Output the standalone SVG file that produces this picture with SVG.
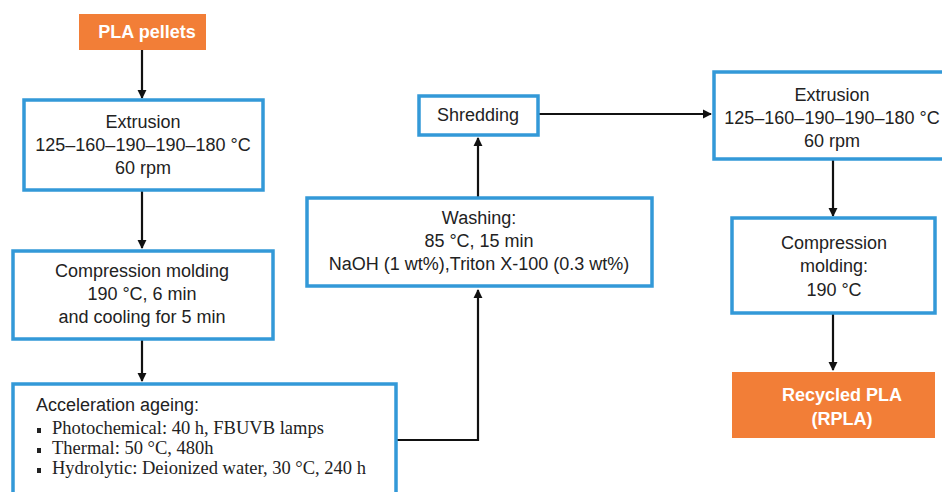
<svg xmlns="http://www.w3.org/2000/svg" width="942" height="492" viewBox="0 0 942 492">
<style>
.box{fill:#fff;stroke:#3399D8;stroke-width:3.5}
.org{fill:#F27E37}
.t{font-family:"Liberation Sans",Arial,sans-serif;font-size:18px;fill:#222;text-anchor:middle}
.tw{font-family:"Liberation Sans",Arial,sans-serif;font-size:18px;font-weight:bold;fill:#fff;text-anchor:middle}
.s{font-family:"Liberation Serif","Times New Roman",serif;font-size:18.5px;fill:#222}
.c{fill:none;stroke:#111;stroke-width:2.2}
</style>
<defs>
<marker id="ah" viewBox="0 0 10 10" refX="9" refY="5" markerWidth="4.2" markerHeight="4.2" orient="auto" markerUnits="strokeWidth">
<path d="M0,0 L10,5 L0,10 z" fill="#111"/>
</marker>
</defs>
<g id="connectors">
<path class="c" d="M142,50 V98" marker-end="url(#ah)"/>
<path class="c" d="M142,190 V248" marker-end="url(#ah)"/>
<path class="c" d="M142,339 V381" marker-end="url(#ah)"/>
<path class="c" d="M396,440 H478 V290" marker-end="url(#ah)"/>
<path class="c" d="M478,198 V138" marker-end="url(#ah)"/>
<path class="c" d="M538,114 H711" marker-end="url(#ah)"/>
<path class="c" d="M833,159 V216" marker-end="url(#ah)"/>
<path class="c" d="M833,313 V370" marker-end="url(#ah)"/>
</g>
<g id="pla-pellets">
<rect class="org" x="79" y="14" width="127" height="36"/>
<text class="tw" x="147" y="38">PLA pellets</text>
</g>
<g id="extrusion1">
<rect class="box" x="24" y="100" width="239" height="90"/>
<text class="t" x="143" y="128">Extrusion</text>
<text class="t" x="143" y="151">125–160–190–190–180 °C</text>
<text class="t" x="143" y="174">60 rpm</text>
</g>
<g id="compression1">
<rect class="box" x="13" y="251" width="260" height="88"/>
<text class="t" x="142" y="277">Compression molding</text>
<text class="t" x="142" y="300">190 °C, 6 min</text>
<text class="t" x="142" y="323">and cooling for 5 min</text>
</g>
<g id="ageing">
<rect class="box" x="13" y="384" width="383" height="120"/>
<text class="t" x="36" y="411" style="text-anchor:start">Acceleration ageing:</text>
<rect x="37" y="428" width="4" height="5" fill="#222"/>
<text class="s" x="52" y="434">Photochemical: 40 h, FBUVB lamps</text>
<rect x="37" y="448" width="4" height="5" fill="#222"/>
<text class="s" x="52" y="454">Thermal: 50 °C, 480h</text>
<rect x="37" y="468" width="4" height="5" fill="#222"/>
<text class="s" x="52" y="474">Hydrolytic: Deionized water, 30 °C, 240 h</text>
</g>
<g id="washing">
<rect class="box" x="307" y="198" width="345" height="88"/>
<text class="t" x="479" y="224">Washing:</text>
<text class="t" x="479" y="247">85 °C, 15 min</text>
<text class="t" x="479" y="270">NaOH (1 wt%),Triton X-100 (0.3 wt%)</text>
</g>
<g id="shredding">
<rect class="box" x="419" y="96" width="119" height="39"/>
<text class="t" x="478" y="121">Shredding</text>
</g>
<g id="extrusion2">
<rect class="box" x="714" y="72" width="240" height="87"/>
<text class="t" x="832" y="101">Extrusion</text>
<text class="t" x="832" y="124">125–160–190–190–180 °C</text>
<text class="t" x="832" y="147">60 rpm</text>
</g>
<g id="compression2">
<rect class="box" x="732" y="218" width="203" height="95"/>
<text class="t" x="834" y="249">Compression</text>
<text class="t" x="834" y="272">molding:</text>
<text class="t" x="834" y="296">190 °C</text>
</g>
<g id="rpla">
<rect class="org" x="732" y="372" width="203" height="66"/>
<text class="tw" x="842" y="401">Recycled PLA</text>
<text class="tw" x="842" y="425">(RPLA)</text>
</g>
</svg>
